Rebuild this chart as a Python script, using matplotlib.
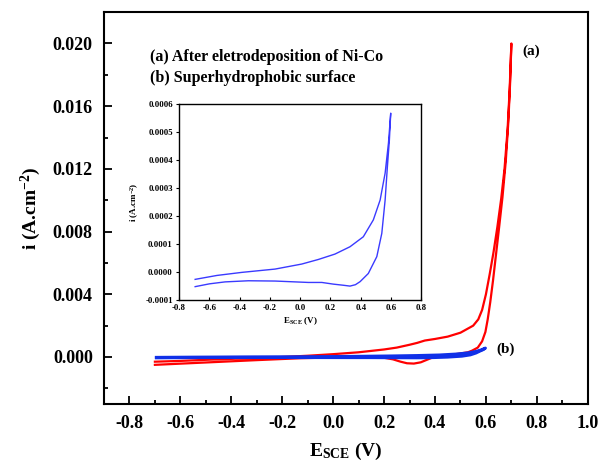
import numpy as np
import matplotlib
matplotlib.use("Agg")
import matplotlib.pyplot as plt
from matplotlib.ticker import MultipleLocator

plt.rcParams['font.family'] = ['Liberation Serif', 'DejaVu Serif']
plt.rcParams['font.weight'] = 'bold'
plt.rcParams['axes.labelweight'] = 'bold'
plt.rcParams['mathtext.fontset'] = 'custom'
plt.rcParams['mathtext.rm'] = 'Liberation Serif:bold'
plt.rcParams['mathtext.it'] = 'Liberation Serif:bold'
plt.rcParams['mathtext.bf'] = 'Liberation Serif:bold'

# (a) after Ni-Co electrodeposition: forward scan, then return scan
red_e = [-0.70, -0.60, -0.50, -0.40, -0.30, -0.20, -0.10, 0.00, 0.10, 0.20, 0.25, 0.30, 0.33,
         0.36, 0.40, 0.45, 0.50, 0.55, 0.57, 0.585, 0.60, 0.615, 0.63, 0.645, 0.66, 0.673,
         0.685, 0.693, 0.70,
         0.695, 0.688, 0.678, 0.665, 0.652, 0.64, 0.628, 0.617, 0.607, 0.598, 0.585, 0.568,
         0.545, 0.529, 0.49, 0.462, 0.43, 0.395, 0.365, 0.344, 0.317, 0.29, 0.265, 0.235,
         0.20, 0.10, 0.00, -0.13, -0.30, -0.50, -0.70]
red_i = [-0.0003, -0.00025, -0.00018, -0.00012, -0.00006, 0.0, 0.00008, 0.00018, 0.0003, 0.00048,
         0.0006, 0.00078, 0.0009, 0.00105, 0.00115, 0.0013, 0.00155, 0.0020, 0.0024, 0.0030,
         0.0040, 0.0053, 0.0067, 0.0083, 0.0101, 0.0120, 0.0145, 0.0170, 0.0200,
         0.0175, 0.0150, 0.0125, 0.0102, 0.0083, 0.0066, 0.0049, 0.0035, 0.0024, 0.0016, 0.0010,
         0.0006, 0.0004, 0.0003, 0.0002, 0.00015, 0.00008, 0.0, -0.0002, -0.00034, -0.00042,
         -0.0004, -0.0003, -0.00015, -0.00005, -0.00002, -0.00003, -0.00008, -0.0002, -0.00035,
         -0.0005]

# (b) superhydrophobic surface: lower branch out, upper branch back
blue_e = [-0.694, -0.60, -0.496, -0.342, -0.166, 0.054, 0.143, 0.219, 0.285, 0.329, 0.365,
          0.396, 0.45, 0.506, 0.539, 0.561, 0.576, 0.589, 0.598,
          0.583, 0.561, 0.528, 0.483, 0.417, 0.329, 0.23, 0.12, 0.01, -0.166, -0.386, -0.55,
          -0.694]
blue_i = [-0.000052, -0.000042, -0.000035, -0.000031, -0.000032, -0.000037, -0.000037,
          -0.000043, -0.000047, -0.00005, -0.000045, -0.000034, -0.000005, 0.000055, 0.000138,
          0.000257, 0.000376, 0.00047, 0.000567,
          0.00046, 0.000353, 0.000257, 0.000186, 0.000126, 0.0000904, 0.0000643, 0.000045,
          0.0000286, 0.0000107, -0.0000011, -0.000012, -0.000026]

fig = plt.figure(figsize=(6.01, 4.66), dpi=100)
ax = fig.add_axes([0.173, 0.133, 0.805, 0.841])
ax.plot(red_e, red_i, color='#ff0000', lw=1.6)
ax.plot(blue_e, blue_i, color='#1030e8', lw=2.2)

ax.set_xlim(-0.9, 1.0)
ax.set_ylim(-0.003, 0.022)
ax.xaxis.set_minor_locator(MultipleLocator(0.1))
ax.yaxis.set_minor_locator(MultipleLocator(0.002))
ax.set_xticks(np.arange(-0.8, 1.01, 0.2))
ax.set_xticklabels(['-0.8', '-0.6', '-0.4', '-0.2', '0.0', '0.2', '0.4', '0.6', '0.8', '1.0'])
ax.set_yticks(np.arange(0.0, 0.0201, 0.004))
ax.set_yticklabels(['0.000', '0.004', '0.008', '0.012', '0.016', '0.020'])
ax.tick_params(which='both', direction='in', top=False, right=False, labelsize=13, width=1.3)
ax.tick_params(which='major', length=6, pad=8)
ax.tick_params(which='minor', length=3)
for s in ax.spines.values():
    s.set_linewidth(1.5)
ax.set_xlabel(r'E$_{\mathrm{SCE}}$ (V)', fontsize=14, labelpad=6)
ax.set_ylabel(r'i (A.cm$^{\mathrm{-2}}$)', fontsize=14, labelpad=7)

ax.text(-0.719, 0.01915, '(a) After eletrodeposition of Ni-Co', fontsize=11.5, va='center')
ax.text(-0.719, 0.0178, '(b) Superhydrophobic surface', fontsize=11.5, va='center')
ax.text(0.777, 0.0195, '(a)', fontsize=11, ha='center', va='center')
ax.text(0.679, 0.00047, '(b)', fontsize=11, ha='center', va='center')

ins = fig.add_axes([0.298, 0.356, 0.403, 0.421])
ins.plot(blue_e, blue_i, color='#3a3aff', lw=1.0)
ins.set_xlim(-0.8, 0.8)
ins.set_ylim(-0.0001, 0.0006)
ins.set_xticks(np.arange(-0.8, 0.81, 0.2))
ins.set_xticklabels(['-0.8', '-0.6', '-0.4', '-0.2', '0.0', '0.2', '0.4', '0.6', '0.8'])
ins.set_yticks(np.arange(-0.0001, 0.00061, 0.0001))
ins.set_yticklabels(['-0.0001', '0.0000', '0.0001', '0.0002', '0.0003', '0.0004', '0.0005', '0.0006'])
ins.tick_params(axis='x', direction='in', length=2.5, width=0.8, labelsize=6.3, pad=3)
ins.tick_params(axis='y', direction='out', length=2.5, width=0.8, labelsize=6.3, pad=2)
for s in ins.spines.values():
    s.set_linewidth(1.0)
ins.set_xlabel(r'E$_{\mathrm{SCE}}$ (V)', fontsize=6.5, labelpad=2)
ins.set_ylabel(r'i (A.cm$^{\mathrm{-2}}$)', fontsize=6.5, labelpad=3)

fig.savefig('out.png', dpi=100)
